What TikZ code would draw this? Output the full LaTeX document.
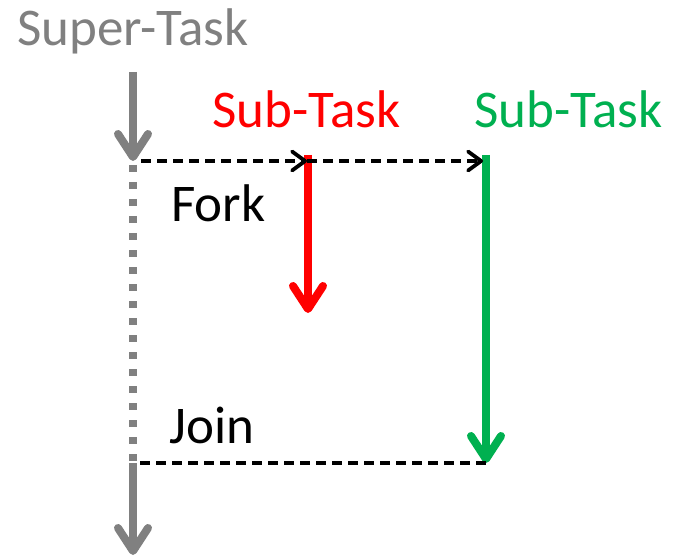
\documentclass[tikz,border=0pt]{standalone}
\usepackage{fontspec}
\setmainfont{Carlito}
\usetikzlibrary{arrows.meta}
\definecolor{greyc}{RGB}{128,128,128}
\definecolor{redc}{RGB}{255,0,0}
\definecolor{greenc}{RGB}{0,176,80}
\begin{document}
\begin{tikzpicture}[x=1pt,y=-1pt,
  lbl/.style={anchor=base west, inner sep=0pt, font=\fontsize{53}{60}\selectfont},
  bigarrow/.style={line width=8pt, -{Straight Barb[length=23pt,width=30pt,round]}},
  dasharrow/.style={line width=3.8pt, dash pattern=on 10pt off 6pt, -{Straight Barb[length=13pt,width=19pt,round]}},
  dashline/.style={line width=3.8pt, dash pattern=on 10pt off 6pt},
  dotline/.style={line width=8pt, dash pattern=on 7pt off 10pt, draw=greyc},
]
\useasboundingbox (0,0) rectangle (680,556);
% labels
\node[lbl, text=greyc] (super) at (17,46) {Super-Task};
\node[lbl, text=redc] (subr) at (212,128) {Sub-Task};
\node[lbl, text=greenc] (subg) at (474,128) {Sub-Task};
\node[lbl] (fork) at (171,222) {Fork};
\node[lbl] (join) at (169,443) {Join};
% coordinates
\coordinate (gtop) at (133,72);
\coordinate (gfork) at (133,161);
\coordinate (dotstart) at (133,165);
\coordinate (gjoin) at (133,463);
\coordinate (gbot) at (133,555);
\coordinate (rtop) at (308,155);
\coordinate (rbot) at (308,313);
\coordinate (gntop) at (486,155);
\coordinate (gnbot) at (486,463);
\coordinate (fs) at (141,161);
\coordinate (rhit) at (307,161);
\coordinate (ghit) at (483,161);
\coordinate (js) at (140,463);
% super-task line
\draw[bigarrow, draw=greyc] (gtop) -- (gfork);
\draw[dotline] (dotstart) -- (gjoin);
\draw[bigarrow, draw=greyc] (gjoin) -- (gbot);
% sub-tasks
\draw[bigarrow, draw=redc] (rtop) -- (rbot);
\draw[bigarrow, draw=greenc] (gntop) -- (gnbot);
% fork / join
\draw[dasharrow] (fs) -- (rhit);
\draw[dasharrow] (rhit) -- (ghit);
\draw[dashline] (js) -- (gnbot);
\end{tikzpicture}
\end{document}
